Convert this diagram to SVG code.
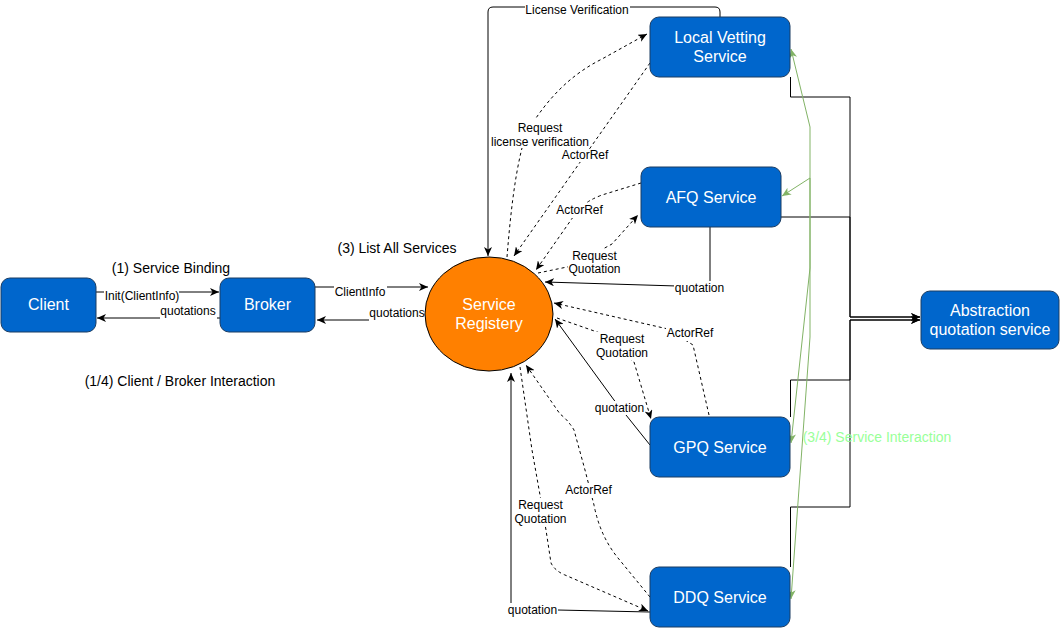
<svg xmlns="http://www.w3.org/2000/svg" width="1061" height="628" viewBox="0 0 1061 628">
<style>
.node{fill:#0066CC;stroke:#1b3d63;stroke-width:1}
.nt{font-family:"Liberation Sans",Arial,sans-serif;font-size:16px;fill:#ffffff;text-anchor:middle}
.e{fill:none;stroke:#000;stroke-width:1}
.d{fill:none;stroke:#000;stroke-width:1;stroke-dasharray:3,3}
.g{fill:none;stroke:#82b366;stroke-width:1}
.lt{font-family:"Liberation Sans",Arial,sans-serif;font-size:12px;fill:#000;text-anchor:middle}
.st{font-family:"Liberation Sans",Arial,sans-serif;font-size:14px;fill:#000;text-anchor:middle}
.lb{fill:#ffffff}
</style>
<defs>
<marker id="ab" markerUnits="userSpaceOnUse" markerWidth="10" markerHeight="8" refX="9" refY="4" orient="auto">
<path d="M0,0 L9,4 L0,8 L2.5,4 z" fill="#000"/>
</marker>
<marker id="ag" markerUnits="userSpaceOnUse" markerWidth="10" markerHeight="8" refX="9" refY="4" orient="auto">
<path d="M0,0 L9,4 L0,8 L2.5,4 z" fill="#82b366"/>
</marker>
</defs>
<rect width="1061" height="628" fill="#ffffff"/>

<g id="connectors">
<path class="e" d="M96,292 L219,292" marker-end="url(#ab)"/>
<path class="e" d="M220,318 L97,318" marker-end="url(#ab)"/>
<path class="e" d="M315,287 L428,287" marker-end="url(#ab)"/>
<path class="e" d="M426,320 L317,320" marker-end="url(#ab)"/>
<path class="e" d="M720,17 L720,12 Q720,7 715,7 L493,7 Q488,7 488,12 L488,256" marker-end="url(#ab)"/>
<path class="d" d="M507,257 C510,220 514,180 522,148 L536,118 C552,95 572,74 602,59 L647,34" marker-end="url(#ab)"/>
<path class="d" d="M650,63 L514,256" marker-end="url(#ab)"/>
<path class="d" d="M641,183 L602,195 Q586,201 578,210 L536,270" marker-end="url(#ab)"/>
<path class="d" d="M538,273 L572,266 L612,244 L638,215" marker-end="url(#ab)"/>
<path class="e" d="M710,227 L710,287 L545,282" marker-end="url(#ab)"/>
<path class="d" d="M709,415 L693,345 L668,329 L554,303" marker-end="url(#ab)"/>
<path class="d" d="M557,318 L600,333 L634,362 L651,419" marker-end="url(#ab)"/>
<path class="e" d="M650,445 L614,400 L555,319" marker-end="url(#ab)"/>
<path class="d" d="M650,597 L618,558 Q600,536 594,505 L585,470 L574,430 Q568,420 560,414 L526,365" marker-end="url(#ab)"/>
<path class="d" d="M520,367 L532,450 L540,495 L546,530 L551,563 Q555,571 565,575 L648,611" marker-end="url(#ab)"/>
<path class="e" d="M650,612 L511,609 L511,373" marker-end="url(#ab)"/>
<path class="e" d="M790.5,77 L790.5,97 L850,97 L850,317 L920,317" marker-end="url(#ab)"/>
<path class="e" d="M781,217 L850,217 L850,317 L920,317" marker-end="url(#ab)"/>
<path class="e" d="M790.5,417 L790.5,380 L850,380 L850,320 L920,320" marker-end="url(#ab)"/>
<path class="e" d="M790.5,567 L790.5,507 L850,507 L850,320 L920,320" marker-end="url(#ab)"/>
<path class="g" d="M810,268 L810,127 L791,49" marker-end="url(#ag)"/>
<path class="g" d="M810,268 L810,178 L782,196" marker-end="url(#ag)"/>
<path class="g" d="M810,268 L791,443" marker-end="url(#ag)"/>
<path class="g" d="M810,268 L810,337 L791,599" marker-end="url(#ag)"/>
</g>

<g id="labels">
<rect class="lb" x="104" y="289" width="75" height="14"/>
<text class="lt" x="142" y="300">Init(ClientInfo)</text>
<rect class="lb" x="160" y="304" width="57" height="15"/>
<text class="lt" x="188" y="315">quotations</text>
<rect class="lb" x="334" y="285" width="53" height="14"/>
<text class="lt" x="360" y="296">ClientInfo</text>
<rect class="lb" x="369" y="306" width="57" height="15"/>
<text class="lt" x="397" y="317">quotations</text>
<rect class="lb" x="525" y="2" width="105" height="15"/>
<text class="lt" x="577" y="14">License Verification</text>
<rect class="lb" x="490" y="120" width="100" height="28"/>
<text class="lt" x="540" y="132">Request</text>
<text class="lt" x="540" y="146">license verification</text>
<rect class="lb" x="561" y="149" width="48" height="13"/>
<text class="lt" x="585" y="159">ActorRef</text>
<rect class="lb" x="555" y="203" width="49" height="15"/>
<text class="lt" x="579.5" y="214">ActorRef</text>
<rect class="lb" x="568" y="249" width="54" height="28"/>
<text class="lt" x="594.5" y="260">Request</text>
<text class="lt" x="594.5" y="273">Quotation</text>
<rect class="lb" x="674" y="281" width="51" height="14"/>
<text class="lt" x="699.5" y="292">quotation</text>
<rect class="lb" x="666" y="326" width="48" height="15"/>
<text class="lt" x="690" y="337">ActorRef</text>
<rect class="lb" x="596" y="332" width="53" height="28"/>
<text class="lt" x="622" y="343">Request</text>
<text class="lt" x="622" y="357">Quotation</text>
<rect class="lb" x="594" y="401" width="51" height="14"/>
<text class="lt" x="619.5" y="412">quotation</text>
<rect class="lb" x="564" y="483" width="49" height="15"/>
<text class="lt" x="588.5" y="494">ActorRef</text>
<rect class="lb" x="514" y="498" width="54" height="28"/>
<text class="lt" x="540.5" y="509">Request</text>
<text class="lt" x="540.5" y="523">Quotation</text>
<rect class="lb" x="507" y="603" width="51" height="14"/>
<text class="lt" x="532.5" y="614">quotation</text>

<text class="st" x="171" y="273">(1) Service Binding</text>
<text class="st" x="397" y="253">(3) List All Services</text>
<text class="st" x="180" y="386">(1/4) Client / Broker Interaction</text>
<text class="st" x="877" y="442" style="fill:#99ff99">(3/4) Service Interaction</text>
</g>

<g id="client">
<rect class="node" x="1" y="278" width="95" height="54" rx="9"/>
<text class="nt" x="48.5" y="309.5">Client</text>
</g>
<g id="broker">
<rect class="node" x="220" y="278" width="95" height="54" rx="9"/>
<text class="nt" x="267.5" y="309.5">Broker</text>
</g>
<g id="service-registry">
<ellipse cx="489" cy="314" rx="64" ry="57" fill="#FF8000" stroke="#000" stroke-width="1"/>
<text class="nt" x="489" y="309.5">Service</text>
<text class="nt" x="489" y="328.5">Registery</text>
</g>
<g id="local-vetting">
<rect class="node" x="650" y="17" width="140" height="60" rx="9"/>
<text class="nt" x="720" y="42.5">Local Vetting</text>
<text class="nt" x="720" y="61.5">Service</text>
</g>
<g id="afq">
<rect class="node" x="641" y="167" width="140" height="60" rx="9"/>
<text class="nt" x="711" y="202.5">AFQ Service</text>
</g>
<g id="gpq">
<rect class="node" x="650" y="417" width="140" height="60" rx="9"/>
<text class="nt" x="720" y="452.5">GPQ Service</text>
</g>
<g id="ddq">
<rect class="node" x="650" y="567" width="140" height="60" rx="9"/>
<text class="nt" x="720" y="602.5">DDQ Service</text>
</g>
<g id="abstraction">
<rect class="node" x="921" y="291" width="138" height="58" rx="9"/>
<text class="nt" x="990" y="315.5">Abstraction</text>
<text class="nt" x="990" y="334.5">quotation service</text>
</g>
</svg>
